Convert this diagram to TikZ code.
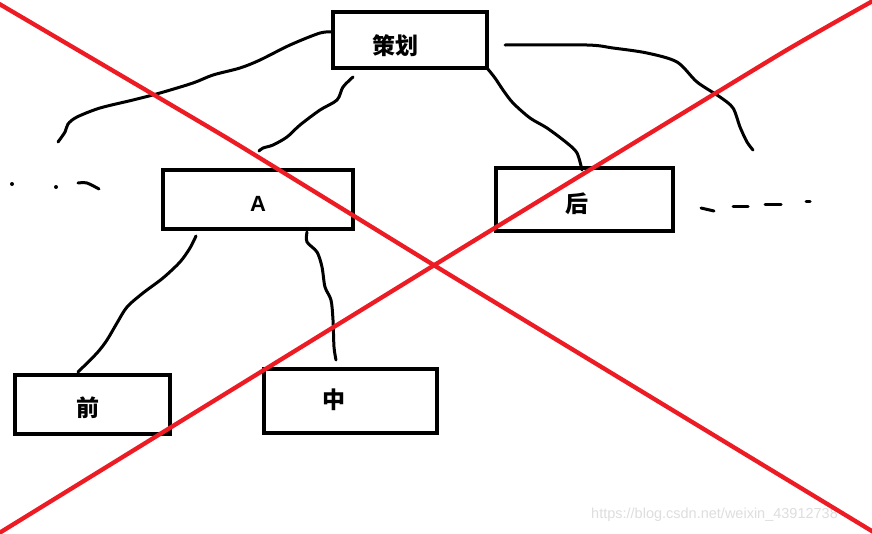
\documentclass[tikz,border=0pt]{standalone}
\usepackage{fontspec}
\setmainfont{Liberation Sans}
\newfontfamily\cjk{Noto Sans CJK SC}
\definecolor{paintred}{RGB}{237,28,36}
\definecolor{wmgray}{RGB}{222,222,222}
\tikzset{
  box/.style={draw=black, line width=4pt, inner sep=0pt, outer sep=0pt},
  cjktext/.style={font=\cjk\bfseries\fontsize{23}{23}\selectfont, inner sep=0pt},
  lattext/.style={font=\bfseries\fontsize{22}{22}\selectfont, inner sep=0pt},
  stroke/.style={draw=black, line width=3pt, line cap=round, line join=round},
  redline/.style={draw=paintred, line width=4.3pt, line join=round},
}
\begin{document}
\begin{tikzpicture}[x=1pt, y=-1pt]
\useasboundingbox (0,0) rectangle (872,533);
\fill[white] (0,0) rectangle (872,533);

% boxes
\node[box, minimum width=154pt, minimum height=56pt,
      label={[cjktext, xshift=-15pt, yshift=-6pt]center:策划}] (ce) at (410,40) {};
\node[box, minimum width=190pt, minimum height=59pt,
      label={[lattext, xshift=0pt, yshift=-4pt]center:A}] (a) at (258,199.5) {};
\node[box, minimum width=177pt, minimum height=63pt,
      label={[cjktext, xshift=-8pt, yshift=-4pt]center:后}] (hou) at (584.5,199.5) {};
\node[box, minimum width=155pt, minimum height=59pt,
      label={[cjktext, xshift=-4.5pt, yshift=-3pt]center:前}] (qian) at (92.5,404.5) {};
\node[box, minimum width=173pt, minimum height=64pt,
      label={[cjktext, xshift=-16.5pt, yshift=1pt]center:中}] (zhong) at (350.5,401) {};

% hand-drawn strokes
\draw[stroke] plot[smooth, tension=0.5] coordinates {([yshift=8pt]ce.west) (320,33) (290,45) (260,60) (240,68) (213,75) (193,83) (160,93) (133,100) (100,108) (77,117) (68,124) (65,132) (58,142)};
\draw[stroke] plot[smooth, tension=0.5] coordinates {(353,77) (343,87) (337,100) (320,110) (300,125) (287,137) (273,145) (263,148) (259,151)};
\draw[stroke] plot[smooth, tension=0.5] coordinates {(ce.south east) (495,78) (503,90) (513,103) (530,118) (547,128) (567,143) (577,153) (582,170)};
\draw[stroke] plot[smooth, tension=0.5] coordinates {(505,45) (587,45) (613,48) (647,53) (677,62) (697,82) (720,97) (733,108) (740,127) (747,142) (753,150)};
\draw[stroke] plot[smooth, tension=0.5] coordinates {(196,236) (190,248) (180,262) (163,278) (143,293) (127,307) (117,323) (107,340) (97,353) (78,372)};
\draw[stroke] plot[smooth, tension=0.5] coordinates {(307,232) (307,242) (317,252) (322,267) (325,287) (331,300) (333,320) (334,347) (336,360)};

% dashes on the right
\draw[stroke] (701,208) -- (714,211);
\draw[stroke] (733,206) -- (748,206);
\draw[stroke] (765,204) -- (781,204);
\draw[stroke] (806,201) -- (810,201);

% dots on the left
\fill (12,184) circle (2pt);
\fill (56,187) circle (2pt);
\draw[stroke] plot[smooth, tension=0.5] coordinates {(78,183) (87,183) (99,189)};

% watermark
\node[font=\fontsize{14.5}{14.5}\selectfont, text=wmgray, anchor=west, inner sep=0pt] (wm) at (591,515) {https://blog.csdn.net/weixin\_43912738};

% red cross
\draw[redline] plot[smooth, tension=0.25] coordinates {(-4,2) (227,138) (450,275) (880,536)};
\draw[redline] plot[smooth, tension=0.25] coordinates {(-4,535) (160,434) (480,237) (780,54) (878,-2)};
\end{tikzpicture}
\end{document}
